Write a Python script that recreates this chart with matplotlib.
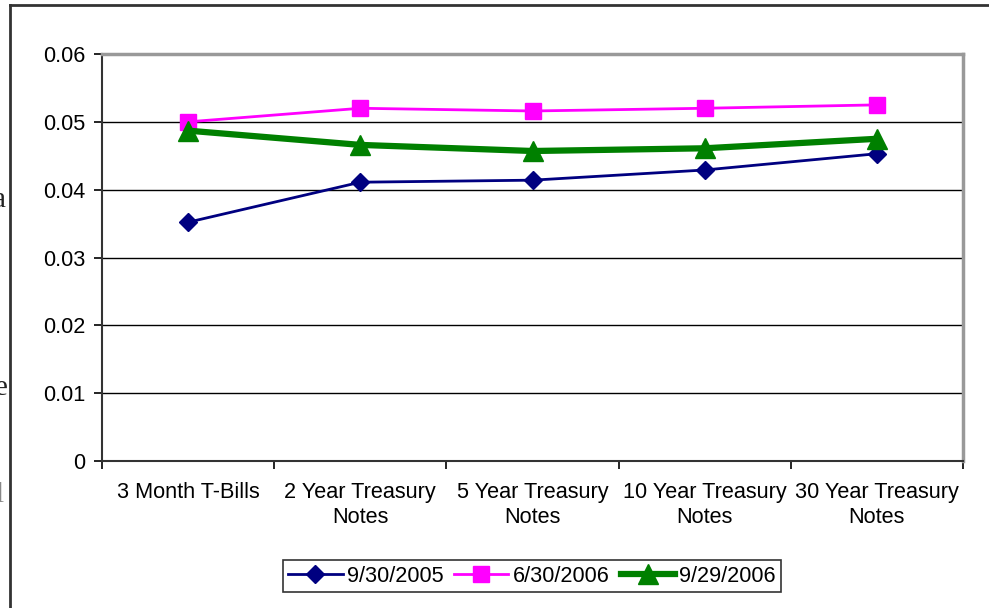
import matplotlib.pyplot as plt
from matplotlib.lines import Line2D
import numpy as np

plt.rcParams['font.family'] = ['Liberation Sans', 'DejaVu Sans']

categories = ['3 Month T-Bills', '2 Year Treasury\nNotes', '5 Year Treasury\nNotes',
              '10 Year Treasury\nNotes', '30 Year Treasury\nNotes']
y_2005_09 = [0.0352, 0.0411, 0.0414, 0.0429, 0.0453]
y_2006_06 = [0.0500, 0.0520, 0.0516, 0.0520, 0.0525]
y_2006_09 = [0.0487, 0.0466, 0.0457, 0.0461, 0.0475]
labels = ['9/30/2005', '6/30/2006', '9/29/2006']

FS = 15.6
W, H = 989, 608
fig = plt.figure(figsize=(W / 100, H / 100), dpi=100)
ax = fig.add_axes([102 / W, 1 - 461 / H, (963 - 102) / W, (461 - 54) / H])

x = np.arange(len(categories))
ax.plot(x, y_2005_09, color='#000080', lw=2, marker='D', ms=9, label=labels[0])
ax.plot(x, y_2006_06, color='#ff00ff', lw=2, marker='s', ms=11, label=labels[1])
ax.plot(x, y_2006_09, color='#008000', lw=4.5, marker='^', ms=14, label=labels[2])

ax.set_xlim(-0.5, len(categories) - 0.5)
ax.set_ylim(0, 0.06)
ax.set_yticks(np.arange(0, 0.061, 0.01))
ax.set_yticklabels(['0', '0.01', '0.02', '0.03', '0.04', '0.05', '0.06'])
ax.yaxis.grid(True, color='black', lw=1)
ax.set_axisbelow(True)

ax.set_xticks(np.arange(-0.5, len(categories)), minor=False)
ax.set_xticklabels([])
ax.set_xticks(x, minor=True)
ax.set_xticklabels(categories, minor=True, linespacing=1.28)
ax.tick_params(axis='x', which='minor', length=0, pad=15, labelsize=FS)
ax.tick_params(axis='x', which='major', length=6, width=1.2, direction='out')
ax.tick_params(axis='y', length=6, width=1.2, direction='out', labelsize=FS, pad=6)

for side in ['top', 'right']:
    ax.spines[side].set_color('#999999')
    ax.spines[side].set_linewidth(2.5)
for side in ['left', 'bottom']:
    ax.spines[side].set_color('#333333')
    ax.spines[side].set_linewidth(1.5)

leg = ax.legend(loc='center', bbox_to_anchor=(532 / W, 1 - 576 / H),
                bbox_transform=fig.transFigure, ncol=3, fontsize=FS,
                frameon=True, fancybox=False, handlelength=2.5,
                columnspacing=0.5, handletextpad=0.2, borderpad=0.25,
                borderaxespad=0)
leg.get_frame().set_edgecolor('black')
leg.get_frame().set_linewidth(1.2)

# outer chart frame
fig.add_artist(Line2D([10 / W, 10 / W], [0, 1 - 5 / H], transform=fig.transFigure,
                      color='#333333', lw=2))
fig.add_artist(Line2D([10 / W, 1], [1 - 5 / H, 1 - 5 / H], transform=fig.transFigure,
                      color='#333333', lw=2))

# cut-off text of the page behind the chart
for ch, xx, yy, col in [('a', 6, 200, '#222222'), ('e', 8, 388, '#222222'),
                        ('l', 4, 495, '#888888')]:
    fig.text(xx / W, 1 - yy / H, ch, family='Liberation Serif', fontsize=21,
             ha='right', va='center', color=col)

fig.savefig('out.png', dpi=100)
